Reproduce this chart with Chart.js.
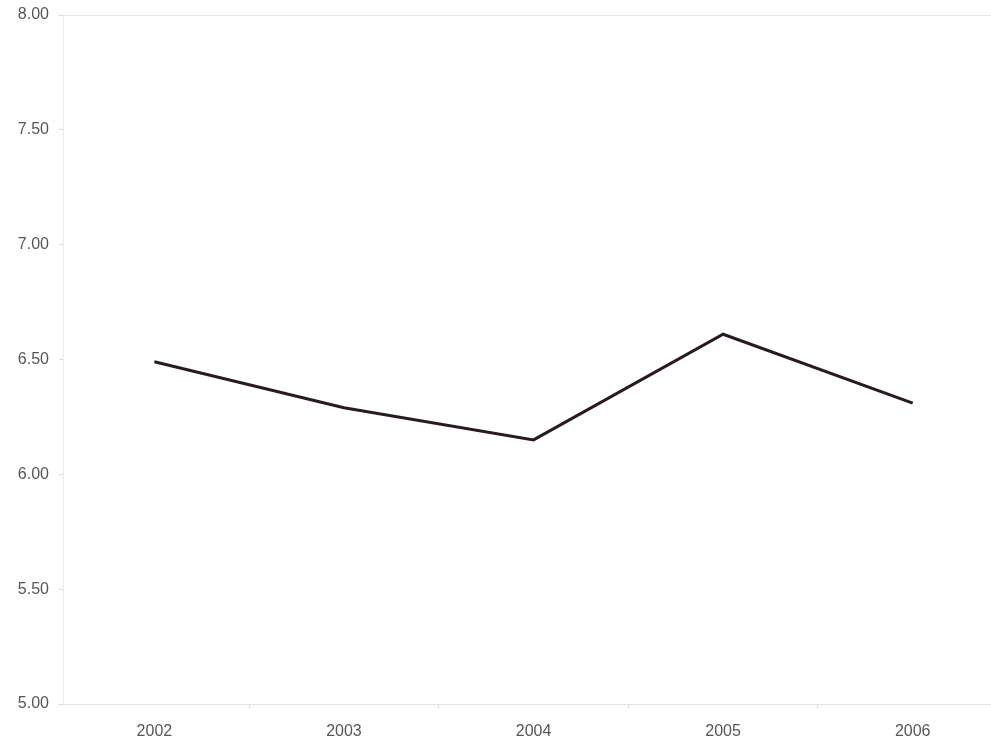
<!DOCTYPE html>
<html>
<head>
<meta charset="utf-8">
<script src="https://cdn.jsdelivr.net/npm/chart.js@4.4.1/dist/chart.umd.min.js"></script>
<style>
html,body{margin:0;padding:0;background:#fff;overflow:hidden;}
#wrap{position:relative;width:991px;height:741px;}
</style>
</head>
<body>
<div id="wrap"><canvas id="c" width="991" height="741"></canvas></div>
<script>
const years = [2002, 2003, 2004, 2005, 2006];
const values = [6.49, 6.29, 6.15, 6.61, 6.31];
const yTicks = [5.00, 5.50, 6.00, 6.50, 7.00, 7.50, 8.00];
const boundaries = [2002.5, 2003.5, 2004.5, 2005.5];

const textColor = '#5a5458';
const font = {family: '"Liberation Sans", Arial, sans-serif', size: 16};

new Chart(document.getElementById('c'), {
  type: 'line',
  data: {
    datasets: [{
      data: years.map((y, i) => ({x: y, y: values[i]})),
      borderColor: '#2b1a1c',
      borderWidth: 3,
      pointRadius: 0,
      tension: 0,
      fill: false
    }]
  },
  options: {
    responsive: false,
    animation: false,
    events: [],
    layout: {padding: {top: 15, left: 0, right: 0, bottom: 0}},
    plugins: {legend: {display: false}, tooltip: {enabled: false}, title: {display: false}},
    scales: {
      x: {
        type: 'linear',
        min: 2001.518,
        max: 2006.413,
        afterBuildTicks: axis => {
          axis.ticks = years.concat(boundaries).sort((a, b) => a - b).map(v => ({value: v}));
        },
        afterFit: s => { s.height = 37; },
        ticks: {
          autoSkip: false,
          maxRotation: 0,
          color: textColor,
          font: font,
          padding: 14,
          callback: v => (Number.isInteger(v) ? String(v) : '')
        },
        grid: {
          drawOnChartArea: false,
          tickLength: 4,
          tickColor: ctx => (ctx.tick && !Number.isInteger(ctx.tick.value) ? '#d8d8d8' : 'rgba(0,0,0,0)')
        },
        border: {display: true, color: '#e4e4e4', width: 1}
      },
      y: {
        min: 5,
        max: 8,
        afterBuildTicks: axis => { axis.ticks = yTicks.map(v => ({value: v})); },
        afterFit: s => { s.width = 63; s.paddingTop = 0; },
        ticks: {
          color: textColor,
          font: font,
          padding: 10,
          callback: v => Number(v).toFixed(2)
        },
        grid: {
          color: ctx => (ctx.tick && ctx.tick.value === 8 ? '#e6e6e6' : 'rgba(0,0,0,0)'),
          tickLength: 4,
          tickColor: '#d8d8d8'
        },
        border: {display: true, color: '#ececec', width: 1}
      }
    }
  }
});
</script>
</body>
</html>
